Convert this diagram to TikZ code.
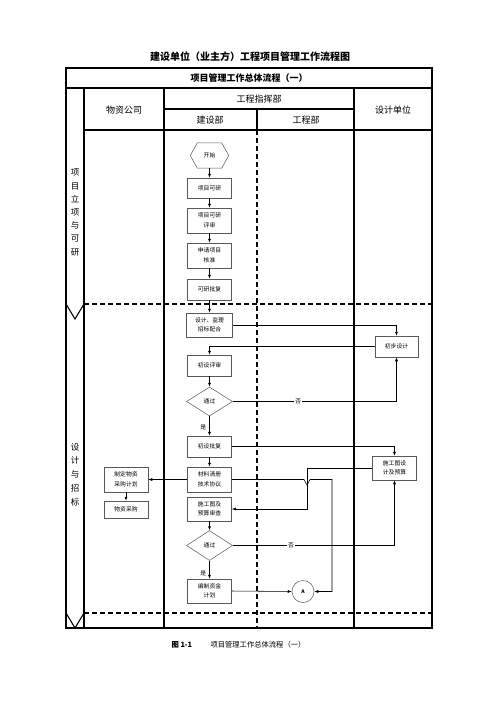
\documentclass[tikz,border=0pt]{standalone}
\usepackage{fontspec}
\setmainfont{Noto Sans CJK SC}
\usetikzlibrary{arrows.meta,shapes.geometric,calc}
\begin{document}
\begin{tikzpicture}[x=1pt,y=-1pt,
  tframe/.style={line width=1.1pt},
  dashln/.style={line width=1.1pt, dash pattern=on 4.5pt off 3.5pt},
  box/.style={draw=black!65, line width=0.5pt, fill=white, minimum width=44pt, minimum height=#1, inner sep=0pt, align=center, font=\fontsize{5.8}{9.5}\selectfont},
  box/.default=21pt,
  dia/.style={draw=black!65, line width=0.5pt, diamond, minimum width=46pt, minimum height=29pt, inner sep=0pt, font=\fontsize{5.8}{8}\selectfont},
  arr/.style={line width=0.55pt, -{Latex[length=4pt,width=3pt]}},
  lab/.style={font=\fontsize{5.8}{8}\selectfont, inner sep=1pt},
  hd/.style={font=\fontsize{9}{11}\selectfont}
]
\fill[white] (0,0) rectangle (500,707);
\useasboundingbox (0,0) rectangle (500,707);

% title
\node[font=\bfseries\fontsize{10}{12}\selectfont] (title) at (250,57) {建设单位（业主方）工程项目管理工作流程图};

% table
\draw[tframe] (66,68) rectangle (432,628);
\draw[tframe] (66,88) -- (432,88);
\draw[tframe] (84,130) -- (432,130);
\draw[tframe] (164,109) -- (354,109);
\draw[tframe] (84,88) -- (84,628);
\draw[tframe] (164,88) -- (164,628);
\draw[tframe] (354,88) -- (354,628);
\draw[tframe] (257,109) -- (257,130);
\draw[dashln] (257,130) -- (257,628);
\draw[dashln] (84,304) -- (432,304);
\draw[dashln] (84,613) -- (432,613);
\draw[tframe] (66,304) -- (75,319) -- (84,304);
\draw[tframe] (66,613) -- (75,628) -- (84,613);

\node[font=\bfseries\fontsize{9}{11}\selectfont] (sub) at (249,78) {项目管理工作总体流程（一）};
\node[hd] (h1) at (124,110) {物资公司};
\node[hd] (h2) at (259,99) {工程指挥部};
\node[hd] (h3) at (210,120) {建设部};
\node[hd] (h4) at (306,120) {工程部};
\node[hd] (h5) at (393,110) {设计单位};
\node[align=center, font=\fontsize{8.5}{13.2}\selectfont] (v1) at (75,212.5) {项\\目\\立\\项\\与\\可\\研};
\node[align=center, font=\fontsize{8.5}{13.75}\selectfont] (v2) at (75,474.5) {设\\计\\与\\招\\标};

% start hexagon
\node[minimum width=24pt, minimum height=25pt, inner sep=0pt, font=\fontsize{5.8}{8}\selectfont] (st) at (209.5,155.5) {开始};
\draw[draw=black!65, line width=0.5pt] ($(st.west)+(-7,0)$) -- (st.north west) -- (st.north east) -- ($(st.east)+(7,0)$) -- (st.south east) -- (st.south west) -- cycle;

% boxes
\node[box=20pt] (p1) at (209.5,188) {项目可研};
\node[box=25pt] (p2) at (209.5,220.5) {项目可研\\评审};
\node[box=25pt] (p3) at (209.5,255.5) {申请项目\\核准};
\node[box=21pt] (p4) at (209.5,289.5) {可研批复};
\node[box=24pt, minimum width=46pt] (p5) at (209.5,325) {设计、监理\\招标配合};
\node[box=21pt, minimum width=43pt] (d1) at (396.5,346.5) {初步设计};
\node[box=21pt] (p6) at (209.5,365.5) {初设评审};
\node[dia] (q1) at (209.5,401.5) {通过};
\node[box=21pt] (p7) at (209.5,446.5) {初设批复};
\node[box=24pt] (d2) at (394.5,468) {施工图设\\计及预算};
\node[box=25pt] (p8) at (209.5,479.5) {材料清册\\技术协议};
\node[box=25pt] (m1) at (126,479.5) {制定物资\\采购计划};
\node[box=17pt] (m2) at (126,509.5) {物资采购};
\node[box=24pt] (p9) at (209.5,509) {施工图及\\预算审查};
\node[dia, minimum height=30pt] (q2) at (209.5,545.5) {通过};
\node[box=24pt] (p10) at (209.5,591) {编制资金\\计划};
\node[circle, draw=black!65, line width=0.5pt, minimum size=22pt, inner sep=0pt, font=\bfseries\fontsize{5}{6}\selectfont] (A) at (303,591.5) {A};

% helper coordinates
\coordinate (j1) at (307,468);
\coordinate (h1a) at (304,479.5);
\coordinate (h1b) at (307,485);
\coordinate (h1c) at (310,479.5);
\coordinate (h1d) at (332,479.5);

% connectors
\draw[arr] (st.south) -- (p1.north);
\draw[arr] (p1.south) -- (p2.north);
\draw[arr] (p2.south) -- (p3.north);
\draw[arr] (p3.south) -- (p4.north);
\draw[arr] (p4.south) -- (p5.north);
\draw[arr] (p5.east) -| (d1.north);
\draw[arr] (d1.west) -| (p6.north);
\draw[arr] (p6.south) -- (q1.north);
\draw[arr] (q1.east) -| node[lab, pos=0.2, fill=white] {否} (d1.south);
\draw[arr] (q1.south) -- node[lab, pos=0.55, left=2pt] {是} (p7.north);
\draw[arr] (p7.east) -| (d2.north);
\draw[arr] (p7.south) -- (p8.north);
\draw[arr] (p8.west) -- (m1.east);
\draw[arr] (m1.south) -- (m2.north);
\draw[arr] (d2.west) -- (j1) |- (p9.east);
\draw[arr] (p8.east) -- (h1a) -- (h1b) -- (h1c) -- (h1d) |- (A.east);
\draw[arr] (p9.south) -- (q2.north);
\draw[arr] (q2.east) -| node[lab, pos=0.18, fill=white] {否} (d2.south);
\draw[arr] (q2.south) -- node[lab, pos=0.68, left=2pt] {是} (p10.north);
\draw[arr] (p10.east) -- (A.west);

% caption
\node[anchor=west, font=\bfseries\fontsize{7.3}{9}\selectfont] (c1) at (168,645) {图 1-1};
\node[anchor=west, font=\fontsize{7.3}{9}\selectfont] (c2) at (207,645) {项目管理工作总体流程（一）};
\end{tikzpicture}
\end{document}
